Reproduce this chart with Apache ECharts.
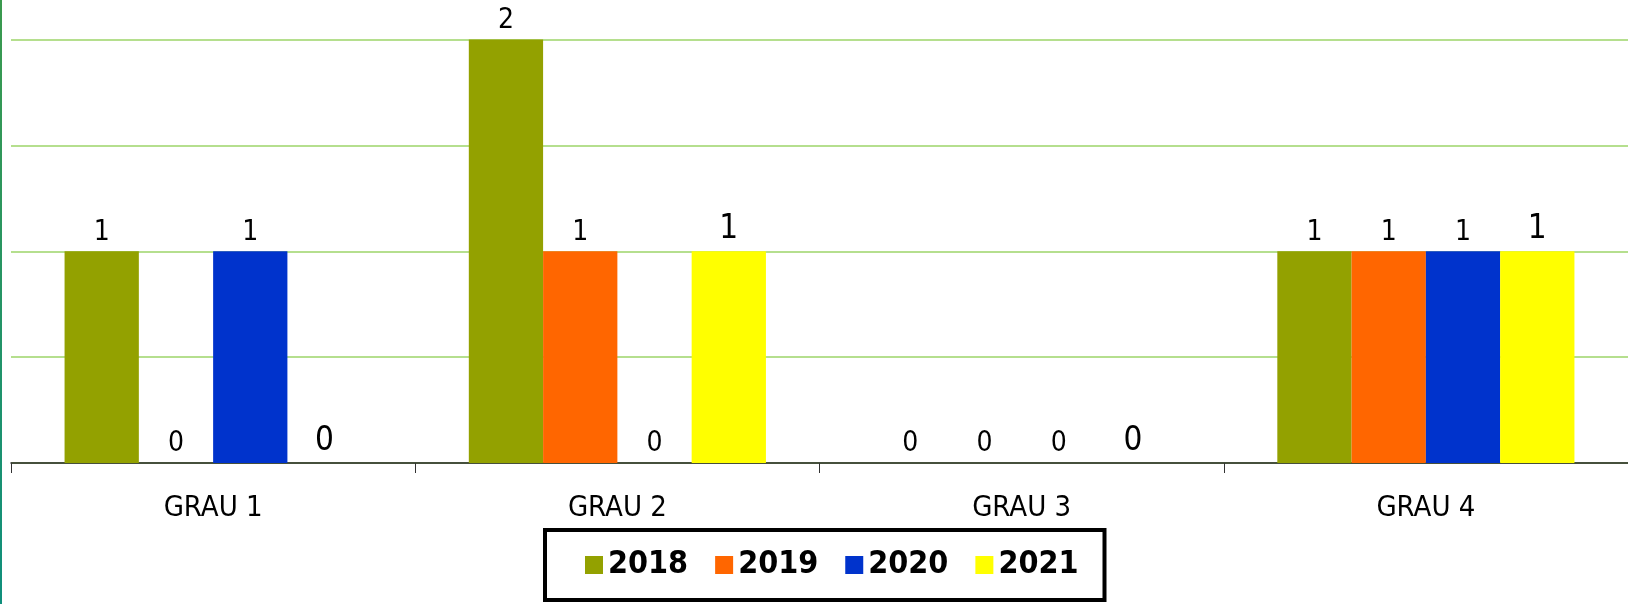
<!DOCTYPE html>
<html>
<head>
<meta charset="utf-8">
<script src="https://cdn.jsdelivr.net/npm/echarts@6/dist/echarts.min.js"></script>
<style>
  html, body { margin: 0; padding: 0; background: #fff; }
  #chart { width: 1628px; height: 604px; }
</style>
</head>
<body>
<div id="chart"></div>
<script>
// dados
const categories = ['GRAU 1', 'GRAU 2', 'GRAU 3', 'GRAU 4']
const years = ['2018', '2019', '2020', '2021']
const values2018 = [1, 2, 0, 1]
const values2019 = [0, 1, 0, 1]
const values2020 = [1, 0, 0, 1]
const values2021 = [0, 1, 0, 1]
const yTicks = [0, 0.5, 1, 1.5, 2]

const colors = ['#93A100', '#FF6600', '#0033CC', '#FFFF00']
const narrow = '"Liberation Sans Narrow", "DejaVu Sans Condensed", "Arial Narrow", sans-serif'

const seriesData = [values2018, values2019, values2020, values2021]

const chart = echarts.init(document.getElementById('chart'))

const makeSeries = (i) => ({
  name: years[i],
  type: 'bar',
  data: seriesData[i],
  barGap: '0%',
  barCategoryGap: '26.5%',
  itemStyle: {
    color: colors[i]
  },
  label: {
    show: true,
    position: 'top',
    distance: 5,
    color: '#000',
    fontFamily: narrow,
    fontSize: i === 3 ? 33 : 28
  }
})

chart.setOption({
  animation: false,
  backgroundColor: '#fff',
  graphic: [
    {
      type: 'rect',
      shape: { x: 0, y: 0, width: 2, height: 604 },
      style: {
        fill: new echarts.graphic.LinearGradient(0, 0, 0, 1, [
          { offset: 0, color: '#3b9a4e' },
          { offset: 1, color: '#0f8f7c' }
        ])
      },
      z: 100
    }
  ],
  grid: {
    left: 11,
    right: -10,
    top: 39.5,
    bottom: 141,
    containLabel: false
  },
  legend: {
    data: years,
    left: 545,
    top: 530,
    icon: 'rect',
    itemWidth: 18,
    itemHeight: 18,
    itemGap: 27,
    padding: [19, 26, 19, 40],
    borderColor: '#000',
    borderWidth: 4,
    textStyle: {
      fontFamily: narrow,
      fontWeight: 'bold',
      fontSize: 32,
      color: '#000'
    }
  },
  xAxis: {
    type: 'category',
    data: categories,
    axisLine: { lineStyle: { color: '#222', width: 1.5 } },
    axisTick: { show: true, length: 10, lineStyle: { color: '#333', width: 1 } },
    axisLabel: {
      margin: 31,
      color: '#000',
      fontFamily: narrow,
      fontSize: 29
    }
  },
  yAxis: {
    type: 'value',
    min: yTicks[0],
    max: yTicks[yTicks.length - 1],
    interval: 0.5,
    axisLabel: { show: false },
    axisLine: { show: false },
    axisTick: { show: false },
    splitLine: { lineStyle: { color: '#B5DF8E', width: 2 } }
  },
  series: years.map((_, i) => makeSeries(i))
})
</script>
</body>
</html>
